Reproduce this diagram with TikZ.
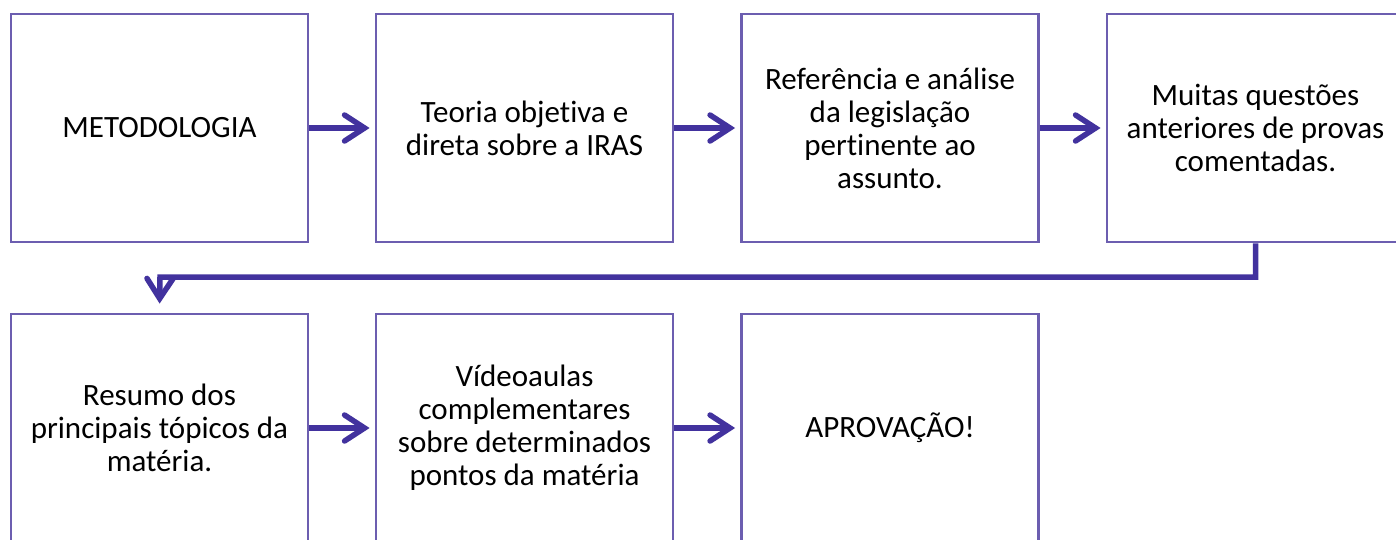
\documentclass[tikz,border=0pt]{standalone}
\usepackage{fontspec}
\setmainfont{Carlito}[Ligatures=NoCommon]
\usetikzlibrary{arrows.meta}
\definecolor{boxline}{RGB}{108,94,176}
\definecolor{arrowcol}{RGB}{66,50,158}
\tikzset{
  etapa/.style={draw=boxline, line width=2.8pt, fill=white, minimum width=297pt, minimum height=228pt,
    inner sep=0pt, align=center, font=\fontsize{31}{33}\selectfont},
  seta/.style={draw=arrowcol, line width=5.5pt, -{Straight Barb[length=20pt,width=26pt,line width=5.5pt, line cap=round]}},
}
\begin{document}
\begin{tikzpicture}[x=1pt,y=1pt]
  \useasboundingbox (0,0) rectangle (1396,-539);
  \clip (0,0) rectangle (1396,-539);

  % primeira linha
  \node[etapa] (metod)  at (159.5,-128) {METODOLOGIA};
  \node[etapa] (teoria) at (524.5,-128) {Teoria objetiva e\\direta sobre a IRAS};
  \node[etapa] (legis)  at (890,-128)   {Referência e análise\\da legislação\\pertinente ao\\assunto.};
  \node[etapa] (quest)  at (1255.5,-128) {Muitas questões\\anteriores de provas\\comentadas.};

  % segunda linha
  \node[etapa] (resumo) at (159.5,-428) {Resumo dos\\principais tópicos da\\matéria.};
  \node[etapa] (video)  at (524.5,-428) {Vídeoaulas\\complementares\\sobre determinados\\pontos da matéria};
  \node[etapa] (aprov)  at (890,-428)   {APROVAÇÃO!};

  \coordinate (desce) at (1255.5,-277);
  \coordinate (volta) at (160,-277);

  \draw[seta, shorten >=5pt] (metod) -- (teoria);
  \draw[seta, shorten >=5pt] (teoria) -- (legis);
  \draw[seta, shorten >=5pt] (legis) -- (quest);
  \draw[seta, shorten >=9pt] (quest.south) -- (desce) -- (volta) -- (resumo.north);
  \draw[seta, shorten >=5pt] (resumo) -- (video);
  \draw[seta, shorten >=5pt] (video) -- (aprov);
\end{tikzpicture}
\end{document}
